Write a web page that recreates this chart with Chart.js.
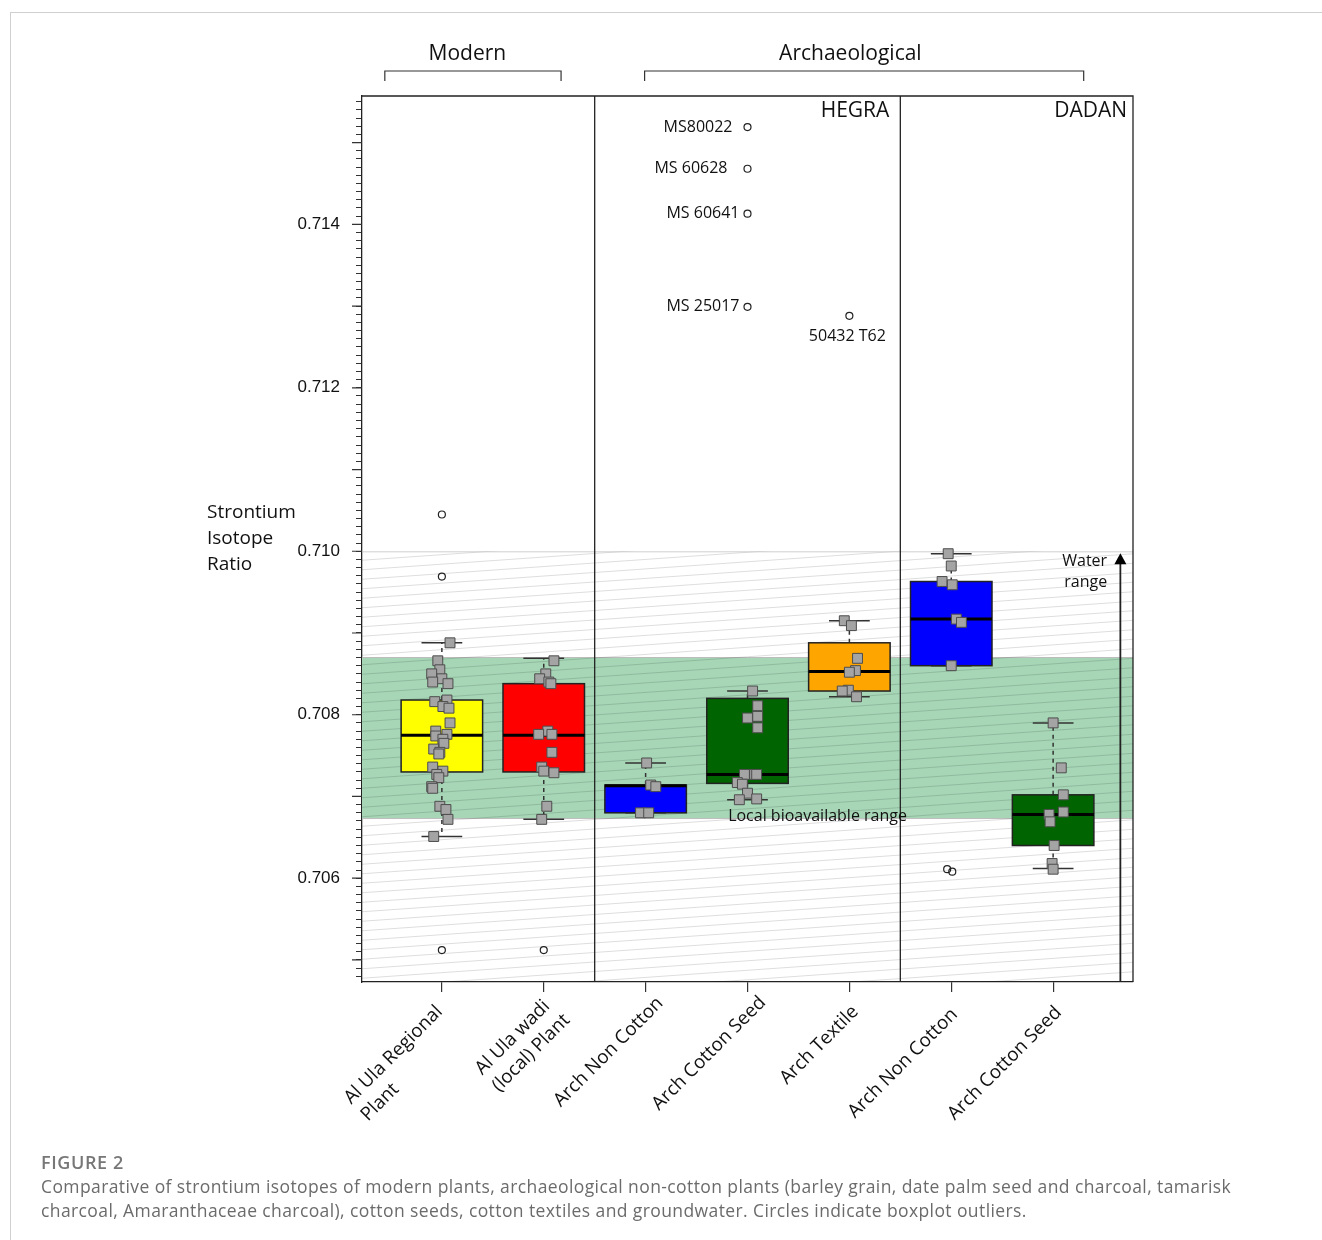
<!DOCTYPE html>
<html>
<head>
<meta charset="utf-8">
<script src="https://cdn.jsdelivr.net/npm/chart.js@4.4.0/dist/chart.umd.min.js"></script>
<style>
  body { margin: 0; background: #fff; }
  #wrap { position: relative; width: 1322px; height: 1240px; overflow: hidden; }
  #frame { position: absolute; left: 10px; top: 12px; width: 1400px; height: 1400px;
           border-left: 1.5px solid #cfcfcf; border-top: 1.5px solid #cfcfcf; }
  #myChart { position: absolute; left: 0; top: 0; }
  .fig { position: absolute; left: 41px; top: 1150px; font-family: "Open Sans", sans-serif;
         font-size: 18px; letter-spacing: 0.6px; font-weight: 600; color: #777; }
  .cap { position: absolute; left: 41px; top: 1174px; font-family: "Open Sans", sans-serif;
         font-size: 17.5px; letter-spacing: 0.4px; line-height: 24px; color: #6b6b6b; white-space: nowrap; }
</style>
</head>
<body>
<div id="wrap">
  <div id="frame"></div>
  <canvas id="myChart" width="1322" height="1240"></canvas>
  <div class="fig">FIGURE 2</div>
  <div class="cap">Comparative of strontium isotopes of modern plants, archaeological non-cotton plants (barley grain, date palm seed and charcoal, tamarisk<br>charcoal, Amaranthaceae charcoal), cotton seeds, cotton textiles and groundwater. Circles indicate boxplot outliers.</div>
</div>
<script>
'use strict';

// categories (x axis)
var categories = [
    ['Al Ula Regional', 'Plant'],
    ['Al Ula wadi', '(local) Plant'],
    ['Arch Non Cotton'],
    ['Arch Cotton Seed'],
    ['Arch Textile'],
    ['Arch Non Cotton'],
    ['Arch Cotton Seed']
];
var boxColors = ['#ffff00', '#ff0000', '#0000ff', '#006400', '#ffa500', '#0000ff', '#006400'];

// boxplot stats
var whiskerLow  = [0.70651, 0.70672, 0.70680, 0.70696, 0.70822, 0.70860, 0.70612];
var boxQ1       = [0.70730, 0.70730, 0.70680, 0.70716, 0.70829, 0.70860, 0.70640];
var boxMedian   = [0.70775, 0.70775, 0.70713, 0.70727, 0.70853, 0.70917, 0.70678];
var boxQ3       = [0.70818, 0.70838, 0.70714, 0.70820, 0.70888, 0.70963, 0.70702];
var whiskerHigh = [0.70888, 0.70869, 0.70741, 0.70829, 0.70915, 0.70997, 0.70790];

// individual samples per category
var samples = [
    [0.70888, 0.70866, 0.70855, 0.70850, 0.70844, 0.70840, 0.70838, 0.70816, 0.70818, 0.70810,
     0.70808, 0.70790, 0.70780, 0.70774, 0.70776, 0.70770, 0.70765, 0.70758, 0.70754, 0.70752,
     0.70736, 0.70731, 0.70727, 0.70723, 0.70712, 0.70710, 0.70688, 0.70684, 0.70672, 0.70651],
    [0.70866, 0.70850, 0.70844, 0.70840, 0.70838, 0.70780, 0.70776, 0.70776, 0.70754, 0.70736,
     0.70731, 0.70729, 0.70688, 0.70672],
    [0.70741, 0.70714, 0.70712, 0.70680, 0.70680],
    [0.70829, 0.70811, 0.70796, 0.70798, 0.70784, 0.70727, 0.70727, 0.70727, 0.70717, 0.70715,
     0.70704, 0.70696, 0.70697],
    [0.70915, 0.70909, 0.70869, 0.70854, 0.70852, 0.70830, 0.70829, 0.70822],
    [0.70997, 0.70982, 0.70963, 0.70959, 0.70917, 0.70913, 0.70860],
    [0.70790, 0.70735, 0.70702, 0.70681, 0.70678, 0.70669, 0.70640, 0.70618, 0.70611]
];
// horizontal jitter of the samples (category units)
var sampleJitter = [
    [0.08, -0.04, -0.02, -0.10, 0.00, -0.09, 0.06, -0.07, 0.05, 0.01,
     0.07, 0.08, -0.06, -0.06, 0.05, 0.01, 0.02, -0.08, -0.02, -0.03,
     -0.09, 0.01, -0.05, -0.03, -0.10, -0.09, -0.02, 0.04, 0.06, -0.08],
    [0.10, 0.02, -0.04, 0.05, 0.07, 0.04, -0.05, 0.08, 0.08, -0.02, 0.00, 0.10, 0.03, -0.02],
    [0.01, 0.05, 0.10, -0.05, 0.03],
    [0.05, 0.10, 0.00, 0.10, 0.10, -0.03, 0.07, 0.09, -0.10, -0.05, 0.00, -0.08, 0.09],
    [-0.05, 0.02, 0.08, 0.06, 0.00, -0.01, -0.07, 0.07],
    [-0.03, 0.00, -0.09, 0.01, 0.05, 0.10, 0.00],
    [0.00, 0.08, 0.10, 0.10, -0.04, -0.03, 0.01, -0.01, 0.00]
];

// outliers
var outlierCategory = [0, 0, 0, 1, 3, 3, 3, 3, 4, 5, 5];
var outlierValues   = [0.71045, 0.70969, 0.70512, 0.70512, 0.71519, 0.71468, 0.71413, 0.71299, 0.71288, 0.70611, 0.70608];
var outlierJitter   = [0, 0, 0, 0, 0, 0, 0, 0, 0, -0.04, 0.01];
var outlierLabels   = ['', '', '', '', 'MS80022', 'MS 60628', 'MS 60641', 'MS 25017', '50432 T62', '', ''];

// reference ranges
var bioRange = [0.70673, 0.70870];
var waterRange = [0.70473, 0.71000];

var yMin = 0.70473;
var yMax = 0.71557;

var FONT = '"Open Sans", sans-serif';

let isotopeChart = {
    chartInstance: null,

    buildPoints() {
        let pts = [];
        samples.forEach((list, i) => {
            list.forEach((v, j) => pts.push({ x: i + sampleJitter[i][j], y: v }));
        });
        return pts;
    },

    buildOutliers() {
        return outlierValues.map((v, k) => ({ x: outlierCategory[k] + outlierJitter[k], y: v }));
    },

    backgroundPlugin: {
        id: 'ranges',
        beforeDatasetsDraw(chart) {
            let ctx = chart.ctx, a = chart.chartArea, y = chart.scales.y;
            ctx.save();
            // local bioavailable band
            let bTop = y.getPixelForValue(bioRange[1]), bBot = y.getPixelForValue(bioRange[0]);
            ctx.fillStyle = '#a6d6b6';
            ctx.fillRect(a.left, bTop, a.right - a.left, bBot - bTop);
            ctx.strokeStyle = '#bcbcbc';
            ctx.lineWidth = 1;
            ctx.beginPath();
            ctx.moveTo(a.left, bTop); ctx.lineTo(a.right, bTop);
            ctx.moveTo(a.left, bBot); ctx.lineTo(a.right, bBot);
            ctx.stroke();
            // water hatch
            let wTop = y.getPixelForValue(waterRange[1]), wBot = y.getPixelForValue(waterRange[0]);
            ctx.beginPath();
            ctx.rect(a.left, wTop, a.right - a.left, wBot - wTop);
            ctx.clip();
            ctx.strokeStyle = 'rgba(0,0,0,0.15)';
            ctx.lineWidth = 0.9;
            let w = a.right - a.left, slope = 0.07;
            ctx.beginPath();
            for (let off = wTop - 10; off < wBot + w * slope + 10; off += 9.5) {
                ctx.moveTo(a.left, off);
                ctx.lineTo(a.right, off - w * slope);
            }
            ctx.stroke();
            ctx.beginPath();
            ctx.strokeStyle = '#bdbdbd';
            ctx.moveTo(a.left, wTop + 0.5); ctx.lineTo(a.right, wTop + 0.5);
            ctx.stroke();
            ctx.restore();
        }
    },

    boxPlugin: {
        id: 'boxes',
        beforeDatasetsDraw(chart) {
            let ctx = chart.ctx, x = chart.scales.x, y = chart.scales.y;
            ctx.save();
            categories.forEach((c, i) => {
                let xc = x.getPixelForValue(i);
                let half = x.getPixelForValue(i + 0.4) - xc;
                let cap = x.getPixelForValue(i + 0.2) - xc;
                let yLo = y.getPixelForValue(whiskerLow[i]), yHi = y.getPixelForValue(whiskerHigh[i]);
                let y1 = y.getPixelForValue(boxQ1[i]), y3 = y.getPixelForValue(boxQ3[i]);
                let ym = y.getPixelForValue(boxMedian[i]);
                // whiskers
                ctx.strokeStyle = '#333';
                ctx.lineWidth = 1.5;
                ctx.setLineDash([4, 4]);
                ctx.beginPath();
                ctx.moveTo(xc, y3); ctx.lineTo(xc, yHi);
                ctx.moveTo(xc, y1); ctx.lineTo(xc, yLo);
                ctx.stroke();
                ctx.setLineDash([]);
                ctx.beginPath();
                ctx.moveTo(xc - cap, yHi); ctx.lineTo(xc + cap, yHi);
                ctx.moveTo(xc - cap, yLo); ctx.lineTo(xc + cap, yLo);
                ctx.stroke();
                // box
                ctx.fillStyle = boxColors[i];
                ctx.fillRect(xc - half, y3, 2 * half, y1 - y3);
                ctx.strokeStyle = '#222';
                ctx.lineWidth = 1.5;
                ctx.strokeRect(xc - half, y3, 2 * half, y1 - y3);
                // median
                ctx.strokeStyle = '#000';
                ctx.lineWidth = 3;
                ctx.beginPath();
                ctx.moveTo(xc - half, ym); ctx.lineTo(xc + half, ym);
                ctx.stroke();
            });
            ctx.restore();
        },
        afterDatasetsDraw(chart) {
            let ctx = chart.ctx, a = chart.chartArea, x = chart.scales.x, y = chart.scales.y;
            ctx.save();
            ctx.strokeStyle = '#222';
            ctx.lineWidth = 1.3;
            ctx.beginPath();
            ctx.moveTo(a.left, a.top); ctx.lineTo(a.right, a.top); ctx.lineTo(a.right, a.bottom);
            [1.5, 4.5].forEach(v => {
                let px = x.getPixelForValue(v);
                ctx.moveTo(px, a.top); ctx.lineTo(px, a.bottom);
            });
            ctx.stroke();
            // water range arrow
            let ax = x.getPixelForValue(6.66), tip = y.getPixelForValue(waterRange[1]) + 2;
            ctx.lineWidth = 1.8;
            ctx.beginPath();
            ctx.moveTo(ax, a.bottom); ctx.lineTo(ax, tip + 8);
            ctx.stroke();
            ctx.fillStyle = '#000';
            ctx.beginPath();
            ctx.moveTo(ax, tip); ctx.lineTo(ax - 6, tip + 11); ctx.lineTo(ax + 6, tip + 11);
            ctx.closePath();
            ctx.fill();
            ctx.restore();
        }
    },

    textPlugin: {
        id: 'texts',
        afterDraw(chart) {
            let ctx = chart.ctx, a = chart.chartArea, x = chart.scales.x, y = chart.scales.y;
            ctx.save();
            // major y ticks
            ctx.strokeStyle = '#333';
            ctx.lineWidth = 1.2;
            ctx.beginPath();
            for (let k = 7050; k <= 7150; k += 10) {
                let py = y.getPixelForValue(k / 10000);
                ctx.moveTo(a.left - 10, py); ctx.lineTo(a.left, py);
            }
            ctx.stroke();

            ctx.fillStyle = '#111';
            ctx.textBaseline = 'middle';

            // group headers with brackets
            ctx.font = '21px ' + FONT;
            ctx.textAlign = 'center';
            [['Modern', -0.56, 1.17, 0.25], ['Archaeological', 1.99, 6.30, 4.01]].forEach(g => {
                let l = x.getPixelForValue(g[1]), r = x.getPixelForValue(g[2]);
                ctx.fillText(g[0], x.getPixelForValue(g[3]), 54);
                ctx.beginPath();
                ctx.moveTo(l, 81); ctx.lineTo(l, 71); ctx.lineTo(r, 71); ctx.lineTo(r, 81);
                ctx.stroke();
            });

            // site labels
            ctx.textAlign = 'right';
            ctx.fillText('HEGRA', x.getPixelForValue(4.5) - 11, a.top + 15);
            ctx.fillText('DADAN', a.right - 6, a.top + 15);

            // y title
            ctx.textAlign = 'left';
            ctx.font = '19px ' + FONT;
            let y710 = y.getPixelForValue(0.710);
            ['Strontium', 'Isotope', 'Ratio'].forEach((t, j) => {
                ctx.fillText(t, 207, y710 - 39 + j * 26);
            });

            // outlier labels
            ctx.font = '16px ' + FONT;
            let gaps = { 'MS80022': 15, 'MS 60628': 20 };
            outlierLabels.forEach((t, k) => {
                if (!t) return;
                let px = x.getPixelForValue(outlierCategory[k] + outlierJitter[k]);
                let py = y.getPixelForValue(outlierValues[k]);
                if (outlierCategory[k] === 4) {
                    ctx.textAlign = 'center';
                    ctx.fillText(t, px - 2, py + 21);
                } else {
                    ctx.textAlign = 'right';
                    ctx.fillText(t, px - (gaps[t] || 8), py);
                }
            });

            // range labels
            ctx.textAlign = 'left';
            ctx.textBaseline = 'alphabetic';
            ctx.fillText('Local bioavailable range', x.getPixelForValue(2.81), y.getPixelForValue(bioRange[0]) + 2);
            ctx.textAlign = 'right';
            ctx.textBaseline = 'middle';
            let wx = x.getPixelForValue(6.53), wy = y.getPixelForValue(waterRange[1]);
            ctx.fillText('Water', wx, wy + 10);
            ctx.fillText('range', wx, wy + 31);

            // rotated category labels
            ctx.font = '18.8px ' + FONT;
            ctx.textAlign = 'left';
            let back = [-15, -3, 3, 4, -9, -13, -10];
            categories.forEach((lines, i) => {
                let px = x.getPixelForValue(i);
                let maxW = Math.max(...lines.map(t => ctx.measureText(t).width));
                ctx.save();
                ctx.translate(px + 4, a.bottom + 12);
                ctx.rotate(-Math.PI / 4);
                let start = lines.length > 1 ? 6 : 12;
                lines.forEach((t, j) => ctx.fillText(t, -maxW + back[i], start + j * 24));
                ctx.restore();
            });
            ctx.restore();
        }
    },

    chartConfig() {
        return {
            type: 'scatter',
            data: {
                datasets: [
                    {
                        label: 'samples',
                        data: this.buildPoints(),
                        pointStyle: 'rect',
                        pointRadius: 7,
                        backgroundColor: '#a4a4a4',
                        borderColor: '#4d4d4d',
                        borderWidth: 1
                    },
                    {
                        label: 'outliers',
                        data: this.buildOutliers(),
                        pointStyle: 'circle',
                        pointRadius: 3.5,
                        backgroundColor: 'rgba(255,255,255,0)',
                        borderColor: '#222',
                        borderWidth: 1.2
                    }
                ]
            },
            options: {
                responsive: false,
                animation: false,
                events: [],
                layout: { padding: { left: 0, top: 96, right: 189, bottom: 0 } },
                plugins: {
                    legend: { display: false },
                    tooltip: { enabled: false }
                },
                scales: {
                    x: {
                        type: 'linear',
                        min: -0.784,
                        max: 6.784,
                        afterBuildTicks: axis => { axis.ticks = categories.map((c, i) => ({ value: i })); },
                        afterFit: axis => { axis.height = 258; },
                        ticks: { display: false },
                        grid: { drawOnChartArea: false, tickLength: 10, color: '#333', lineWidth: 1.2 },
                        border: { color: '#222', width: 1.3 }
                    },
                    y: {
                        type: 'linear',
                        min: yMin,
                        max: yMax,
                        afterBuildTicks: axis => {
                            let t = [];
                            for (let k = 7048; k <= 7155; k++) t.push({ value: k / 10000 });
                            axis.ticks = t;
                        },
                        afterFit: axis => { axis.width = 362; },
                        ticks: {
                            autoSkip: false,
                            padding: 16,
                            color: '#111',
                            font: { family: '"Liberation Sans", Arial, sans-serif', size: 17 },
                            callback: v => {
                                let k = Math.round(v * 10000);
                                return k % 20 === 0 ? (k / 10000).toFixed(3) : '';
                            }
                        },
                        grid: { drawOnChartArea: false, tickLength: 6, color: '#333', lineWidth: 1 },
                        border: { color: '#222', width: 1.3 }
                    }
                }
            },
            plugins: [this.backgroundPlugin, this.boxPlugin, this.textPlugin]
        };
    },

    generateChart() {
        this.chartInstance = new Chart(document.getElementById('myChart'), this.chartConfig());
    }
};

isotopeChart.generateChart();
</script>
</body>
</html>
